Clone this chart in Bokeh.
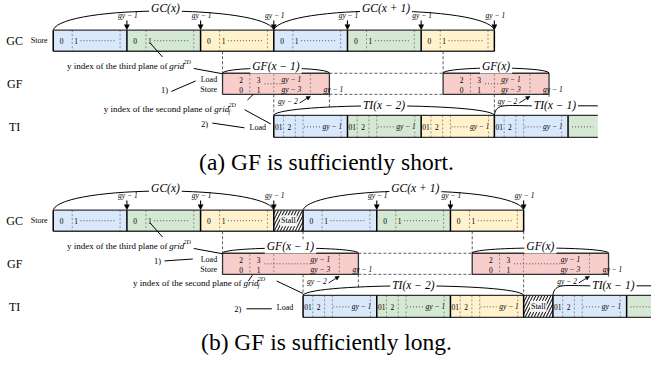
from bokeh.plotting import figure
from bokeh.models import Range1d, Arrow, NormalHead
from bokeh.core.properties import value
from bokeh.embed import file_html
from bokeh.resources import INLINE

# ---------------- data: time positions on the shared time axis ----------------
row_names = ["GC", "GF", "TI"]
seg_colors = ["#dae8fc", "#d5e8d4", "#fff2cc"]
gf_color = "#f8cecc"
captions = ["(a) GF is sufficiently short.", "(b) GF is sufficiently long."]

gc_cell_labels = ["0", "1"]
gf_load_labels = ["2", "3", "gy − 1"]
gf_store_labels = ["0", "1", "gy − 3"]
ti_cell_labels = ["01", "2", "gy − 1"]

# panel (a): GF is sufficiently short
a_gc_left = [54, 129.5, 205, 280, 355.5, 431]
a_gc_right = [129.5, 205, 280, 355.5, 431, 506]
a_gc_stall = []
a_gc_labels = ["GC(x)", "GC(x + 1)"]
a_gf_left = [227.5, 453.5]
a_gf_right = [337, 562]
a_gf_labels = ["GF(x − 1)", "GF(x)"]
a_ti_left = [280, 355.5, 431, 506, 581.5]
a_ti_right = [355.5, 431, 506, 581.5, 612]
a_ti_stall = []
a_ti_labels = ["TI(x − 2)", "TI(x − 1)"]

# panel (b): GF is sufficiently long
b_gc_left = [54, 129.5, 205, 310, 385.5, 461]
b_gc_right = [129.5, 205, 280, 385.5, 461, 536]
b_gc_stall = [(280, 310)]
b_gc_labels = ["GC(x)", "GC(x + 1)"]
b_gf_left = [227.5, 483.3]
b_gf_right = [366.7, 623]
b_gf_labels = ["GF(x − 1)", "GF(x)"]
b_ti_left = [310, 385.5, 461, 566, 641.5]
b_ti_right = [385.5, 461, 536, 641.5, 672]
b_ti_stall = [(536, 566)]
b_ti_labels = ["TI(x − 2)", "TI(x − 1)"]

# ---------------- layout (panel-relative, in reference pixels) ----------------
PANEL_DY = [0, 188]
Y_GC_TOP, Y_GC_BOT = 31, 53
Y_GF_TOP, Y_GF_BOT = 76, 98
Y_TI_TOP, Y_TI_BOT = 120, 143
Y_GC_LBL, Y_GC_PEAK = 8, 11
Y_GY_LBL, Y_ARR_TOP = 16, 21
Y_GF_LBL, Y_GF_PEAK = 68, 70.5
Y_TI_LBL, Y_TI_PEAK = 109, 110
Y_LOAD, Y_STORE, Y_GF_DOTS = 83, 93, 87
Y_CAPTION = 169
BRACE_FONT = 11.5

NOTES = [
    dict(one=(168, 93), one_line=(175, 95, 200, 84),
         second_end=243, second_y=113, slash=(253, 104, 259, 98), second_line=(250, 114, 277, 129),
         two=(209, 129), two_line=(217, 128, 250, 133), ti_load_x=272,
         gf_tail=[111, 104], gc_to_brace=False),
    dict(one=(161, 84), one_line=(168, 84, 197, 82),
         second_end=273, second_y=107, slash=(254, 105, 258, 99), second_line=(283, 105, 310, 118),
         two=(243, 134), two_line=(252, 134, 278, 134), ti_load_x=300,
         gf_tail=[112, 103], gc_to_brace=True),
]

SERIF = value("Liberation Serif")
DARK = "#333333"

p = figure(width=651, height=360, x_range=Range1d(0, 667), y_range=Range1d(376, 0),
           output_backend="svg", toolbar_location=None,
           x_axis_location=None, y_axis_location=None, min_border=0)
p.grid.visible = False
p.outline_line_color = None
p.background_fill_color = "white"
p.border_fill_color = "white"


def txt(x, y, s, size, align="center", italic=False, baseline="middle", bg=None, pad=0):
    kw = {}
    if bg is not None:
        kw = dict(background_fill_color=bg, padding=pad)
    p.text(x=[x], y=[y], text=[s], text_font=SERIF, text_font_size=f"{size}px",
           text_align=align, text_baseline=baseline,
           text_font_style="italic" if italic else "normal", text_color="black", **kw)


def seg(x0, y0, x1, y1, w=0.8, color="black", dash="solid"):
    p.segment(x0=[x0], y0=[y0], x1=[x1], y1=[y1], line_width=w, line_color=color, line_dash=dash)


def brace(x0, x1, ybar, ypeak):
    cy = ybar - (ybar - ypeak) / 0.75
    w = x1 - x0
    p.bezier(x0=[x0], y0=[ybar], x1=[x1], y1=[ybar], cx0=[x0 + 0.05 * w], cy0=[cy],
             cx1=[x1 - 0.05 * w], cy1=[cy], line_color="black", line_width=1.0)


def half_brace(x0, xlab, xend, ybar, ypeak):
    cy = ybar - (ybar - ypeak) / 0.75
    p.bezier(x0=[x0], y0=[ybar], x1=[xlab], y1=[ypeak], cx0=[x0 + 2], cy0=[cy],
             cx1=[x0 + 12], cy1=[ypeak], line_color="black", line_width=1.0)
    seg(xlab, ypeak, xend, ypeak, w=1.0)


def arrow(xs, ys, xe, ye, size=5, w=1.1):
    p.add_layout(Arrow(end=NormalHead(size=size, fill_color="black", line_color="black", line_width=0.5),
                       x_start=xs, y_start=ys, x_end=xe, y_end=ye, line_width=w, line_color="black"))


def stall_box(l, r, top, bot):
    p.quad(left=[l], right=[r], top=[top], bottom=[bot], fill_color="white",
           hatch_pattern="/", hatch_color="#222222", hatch_scale=6, hatch_weight=1.1, line_color=None)
    txt((l + r) / 2, (top + bot) / 2, "Stall", 8, bg="#f6f6f6", pad=1)


def draw_panel(dy, gc_left, gc_right, gc_stall, gc_labels, gf_left, gf_right, gf_labels,
               ti_left, ti_right, ti_stall, ti_labels, caption, notes):
    Y = lambda v: v + dy
    # row labels
    for name, yy in zip(row_names, [42, 87, 132]):
        txt(14.5, Y(yy), name, 12)
    txt(31, Y(42), "Store", 8, align="left")

    # ---- GC bar ----
    gtop, gbot = Y(Y_GC_TOP), Y(Y_GC_BOT)
    for i, (l, r) in enumerate(zip(gc_left, gc_right)):
        p.quad(left=[l], right=[r], top=[gtop], bottom=[gbot], fill_color=seg_colors[i % 3], line_color=None)
        for d in (19.5, 68.5):
            seg(l + d, gtop, l + d, gbot, w=0.6, color="#555555", dash="2 2")
        txt(l + 8.5, Y(42), gc_cell_labels[0], 7.5)
        txt(l + 23.5, Y(42), gc_cell_labels[1], 7.5)
        seg(l + 28, Y(42), l + 64, Y(42), w=0.9, color="#444444", dash="1 2")
    for (l, r) in gc_stall:
        stall_box(l, r, gtop, gbot)
    seg(gc_left[0], gtop, gc_right[-1], gtop, w=1.3, color=DARK)
    seg(gc_left[0], gbot, gc_right[-1], gbot, w=1.3, color=DARK)
    for x in sorted(set(gc_left + gc_right)):
        seg(x, gtop, x, gbot, w=1.5, color="black")
    # gy-1 arrows
    for r in gc_right:
        arrow(r, Y(Y_ARR_TOP), r, gtop - 0.5)
        txt(r + 1, Y(Y_GY_LBL), "gy − 1", 7.5, italic=True)
    # GC braces
    for k, lab in enumerate(gc_labels):
        x0, x1 = gc_left[3 * k], gc_right[3 * k + 2]
        brace(x0, x1, gtop - 0.5, Y(Y_GC_PEAK))
        txt((x0 + x1) / 2 + 2, Y(Y_GC_LBL), lab, BRACE_FONT, italic=True, bg="white", pad=2)

    # ---- GF bars ----
    ftop, fbot = Y(Y_GF_TOP), Y(Y_GF_BOT)
    for k, (l, r) in enumerate(zip(gf_left, gf_right)):
        w = r - l
        p.quad(left=[l], right=[r], top=[ftop], bottom=[fbot], fill_color=gf_color,
               line_color=DARK, line_width=1.3)
        for d in (28, 52.5, w - 19.5):
            seg(l + d, ftop + 1, l + d, fbot - 1, w=0.6, color="#555555", dash="2 2")
        for xx, a, b in zip((l + 19, l + 37, r - 39), gf_load_labels, gf_store_labels):
            txt(xx, Y(Y_LOAD), a, 7.5, italic=a.startswith("gy"))
            txt(xx, Y(Y_STORE), b, 7.5, italic=b.startswith("gy"))
        seg(l + 43, Y(Y_GF_DOTS), r - 49, Y(Y_GF_DOTS), w=0.9, color="#444444", dash="1 2")
        txt(r + 4, Y(Y_STORE), "gy − 1", 7.5, italic=True)
        # gy-2 arrow
        tip = r - 19.5
        arrow(tip - 11, fbot + 9, tip, fbot + 2, size=4, w=0.9)
        txt(tip - 23, fbot + 8, "gy − 2", 7.5, italic=True)
        # connectors
        seg(l, gbot, l, ftop, w=0.8, color=DARK, dash="3 2")
        seg(r, fbot, r, Y(notes["gf_tail"][k]), w=0.8, color=DARK, dash="3 2")
        brace(l, r, ftop - 0.5, Y(Y_GF_PEAK))
        txt((l + r) / 2, Y(Y_GF_LBL), gf_labels[k], BRACE_FONT, italic=True, bg="white", pad=2)
    # horizontal dashed between GF bars
    seg(gf_right[0], ftop, gf_left[1], ftop, w=0.8, color=DARK, dash="3 2")
    seg(gf_right[0], fbot, gf_left[1], fbot, w=0.8, color=DARK, dash="3 2")
    if notes["gc_to_brace"]:
        for x in (gc_left[3], gc_right[5]):
            seg(x, gbot, x, Y(Y_GF_LBL - 5), w=0.8, color=DARK, dash="3 2")

    # ---- TI bar ----
    ttop, tbot = Y(Y_TI_TOP), Y(Y_TI_BOT)
    tmid = Y(132)
    for i, (l, r) in enumerate(zip(ti_left, ti_right)):
        p.quad(left=[l], right=[r], top=[ttop], bottom=[tbot], fill_color=seg_colors[i % 3], line_color=None)
        if i < len(ti_left) - 1:
            for d in (10, 22, 30, 69):
                seg(l + d, ttop, l + d, tbot, w=0.6, color="#555555", dash="2 2")
            txt(l + 5, tmid, ti_cell_labels[0], 7.5)
            txt(l + 16, tmid, ti_cell_labels[1], 7.5)
            seg(l + 31, tmid, l + 48, tmid, w=0.9, color="#444444", dash="1 2")
            txt(l + 60, tmid, ti_cell_labels[2], 7.5, italic=True, bg=seg_colors[i % 3])
        else:
            seg(l + 4, tmid, l + 26, tmid, w=0.9, color="#444444", dash="1 2")
    for (l, r) in ti_stall:
        stall_box(l, r, ttop, tbot)
    seg(ti_left[0], ttop, ti_right[-1], ttop, w=1.3, color=DARK)
    seg(ti_left[0], tbot, ti_right[-1], tbot, w=1.3, color=DARK)
    for x in sorted(set(ti_left + ti_right[:-1])):
        seg(x, ttop, x, tbot, w=1.5, color="black")
    # GF -> TI connectors
    for x in (ti_left[0], ti_right[2]):
        seg(x, fbot, x, ttop, w=0.8, color=DARK, dash="3 2")
    # TI braces
    brace(ti_left[0], ti_right[2], ttop - 0.5, Y(Y_TI_PEAK))
    txt((ti_left[0] + ti_right[2]) / 2, Y(Y_TI_LBL), ti_labels[0], BRACE_FONT, italic=True, bg="white", pad=2)
    x0 = ti_left[3]
    half_brace(x0, x0 + 40, x0 + 106, ttop - 0.5, Y(Y_TI_PEAK))
    txt(x0 + 62, Y(Y_TI_LBL), ti_labels[1], BRACE_FONT, italic=True, bg="white", pad=2)

    # ---- left annotations ----
    # third plane of grid^2D
    ty = Y(68)
    txt(171, ty, "y index of the third plane of", 9, align="right")
    txt(173, ty, "grid", 9, align="left", italic=True)
    txt(187.5, ty - 4, "2D", 6, align="left", italic=True)
    seg(153, Y(44), 166, Y(59), w=1.0)
    seg(198, Y(71), gf_left[0], ftop + 0.5, w=1.0)
    # 1) Load / Store
    txt(222, Y(Y_LOAD), "Load", 8, align="right")
    txt(222, Y(Y_STORE), "Store", 8, align="right")
    ox, oy = notes["one"]
    txt(ox, Y(oy), "1)", 8.5)
    a, b, c, d = notes["one_line"]
    seg(a, Y(b), c, Y(d), w=1.0)
    # second plane of grid_f^2D
    se, sy = notes["second_end"], Y(notes["second_y"])
    txt(se - 26, sy, "y index of the second plane of", 9, align="right")
    txt(se - 24, sy, "grid", 9, align="left", italic=True)
    txt(se - 9.5, sy - 4, "2D", 6, align="left", italic=True)
    txt(se - 9.5, sy + 3.5, "f", 6, align="left", italic=True)
    a, b, c, d = notes["slash"]
    seg(a, Y(b), c, Y(d), w=1.0)
    a, b, c, d = notes["second_line"]
    seg(a, Y(b), c, Y(d), w=1.0)
    # 2) Load
    tx, tyy = notes["two"]
    txt(tx, Y(tyy), "2)", 8.5)
    a, b, c, d = notes["two_line"]
    seg(a, Y(b), c, Y(d), w=1.0)
    txt(notes["ti_load_x"], Y(133), "Load", 8, align="right")

    # caption
    txt(334, Y(Y_CAPTION), caption, 23.5)


draw_panel(PANEL_DY[0], a_gc_left, a_gc_right, a_gc_stall, a_gc_labels, a_gf_left, a_gf_right, a_gf_labels,
           a_ti_left, a_ti_right, a_ti_stall, a_ti_labels, captions[0], NOTES[0])
draw_panel(PANEL_DY[1], b_gc_left, b_gc_right, b_gc_stall, b_gc_labels, b_gf_left, b_gf_right, b_gf_labels,
           b_ti_left, b_ti_right, b_ti_stall, b_ti_labels, captions[1], NOTES[1])

open("out.html", "w").write(file_html(p, INLINE))
